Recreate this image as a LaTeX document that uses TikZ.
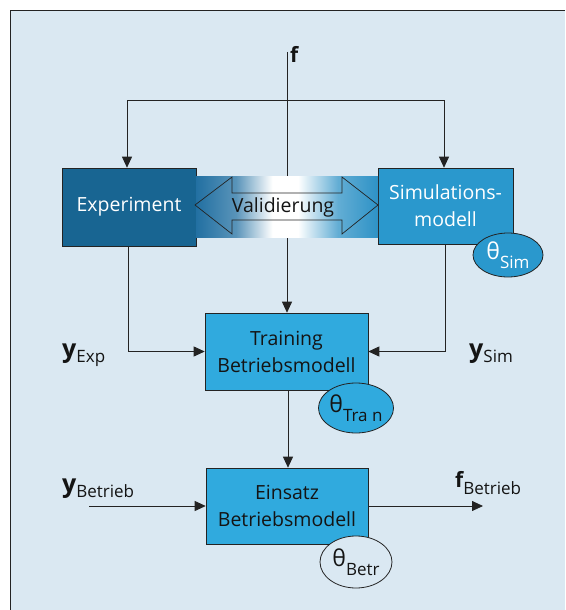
\documentclass[tikz,border=0pt]{standalone}
\usepackage{fontspec}
\setmainfont{Open Sans}
\usetikzlibrary{arrows.meta,shapes.geometric}
\definecolor{bgblue}{RGB}{218,232,242}
\definecolor{expblue}{RGB}{24,101,146}
\definecolor{simblue}{RGB}{42,152,205}
\definecolor{trainblue}{RGB}{48,170,222}
\definecolor{bandleft}{RGB}{34,112,162}
\definecolor{bandright}{RGB}{46,146,198}
\definecolor{linecol}{RGB}{35,35,35}
\definecolor{txtdark}{RGB}{20,20,20}
\pgfdeclarehorizontalshading{valband}{100bp}{color(0bp)=(bandleft); color(25bp)=(bandleft);
  color(36bp)=(bandleft!75!white); color(46bp)=(white); color(53bp)=(white);
  color(64bp)=(bandright!75!white); color(75bp)=(bandright); color(100bp)=(bandright)}
\tikzset{
  box/.style={draw=linecol, line width=0.6pt, minimum width=#1, inner sep=0pt, align=center,
              font=\fontsize{19.5}{27}\selectfont},
  theta/.style={ellipse, draw=linecol, line width=0.8pt, inner sep=0pt},
  arr/.style={draw=linecol, line width=0.8pt, -{Triangle[length=11pt,width=10pt]}},
  ln/.style={draw=linecol, line width=0.8pt},
  lbl/.style={inner sep=0pt, anchor=base west},
}
\newcommand{\bigy}[1]{{\fontsize{25}{25}\selectfont\bfseries y}\raisebox{-5pt}{\fontsize{17}{17}\selectfont #1}}
\newcommand{\thsub}[1]{{\fontsize{23}{23}\selectfont θ}\raisebox{-9pt}{\fontsize{17}{17}\selectfont #1}}
\begin{document}
\begin{tikzpicture}[x=1pt,y=-1pt]
\useasboundingbox (0,0) rectangle (565,610);
% background frame
\fill[white] (0,0) rectangle (565,610);
\fill[bgblue] (10,11) rectangle (565,610);
\draw[linecol, line width=1pt] (10,610) -- (10,11) -- (565,11);

% nodes
\node[box=134pt, minimum height=78pt, fill=expblue, text=white] (exp) at (129,207) {Experiment};
\node[box=135pt, minimum height=76pt, fill=simblue, text=white] (sim) at (445.5,206) {Simulations-\\modell};
\node[box=163pt, minimum height=77pt, fill=trainblue, text=txtdark] (train) at (286.5,351.5) {Training\\Betriebsmodell};
\node[box=162pt, minimum height=76pt, fill=trainblue, text=txtdark] (eins) at (287,506) {Einsatz\\Betriebsmodell};

% coordinates
\coordinate (ftop) at (287,52);
\coordinate (bandtop) at (287,176);
\coordinate (bandbot) at (287,237);
\coordinate (jl) at (127,100);
\coordinate (jr) at (444,100);
\coordinate (yin) at (89,506);
\coordinate (fout) at (483,506);

% f distribution
\draw[ln] (jl) -- (jr);
\draw[arr] (jl) -- (jl |- exp.north);
\draw[arr] (jr) -- (jr |- sim.north);
\draw[ln] (ftop) -- (bandtop);
\draw[arr] (bandbot) -- (bandbot |- train.north);

% validation band
\shade[shading=valband] (196,176) rectangle (378,237);
\draw[linecol, line width=0.7pt] (195,205) -- (232,177) -- (232,193) -- (342,193) -- (342,177) -- (378,205)
  -- (342,234) -- (342,220) -- (232,220) -- (232,234) -- cycle;
\node[inner sep=0pt, font=\fontsize{19.5}{20}\selectfont, text=txtdark] (val) at (283,207) {Validierung};

% outputs to training
\draw[arr] (exp.south -| 128,0) |- (train.west);
\draw[arr] (sim.south) |- (train.east);
\draw[arr] (train.south -| 288,0) -- (eins.north -| 288,0);

% einsatz in/out
\draw[arr] (yin) -- (eins.west);
\draw[arr] (eins.east) -- (fout);

% theta ellipses
\node[theta, minimum width=70pt, minimum height=44pt, fill=simblue, text=white] (tsim) at (508,255) {\thsub{Sim}};
\node[theta, minimum width=72pt, minimum height=50pt, fill=trainblue, text=txtdark] (ttran) at (356,408) {\thsub{Tra n}};
\node[theta, minimum width=72pt, minimum height=52pt, fill=bgblue, text=txtdark] (tbetr) at (356,562) {\thsub{Betr}};

% labels
\node[lbl, font=\fontsize{21}{21}\selectfont\bfseries, text=txtdark] (flab) at (290,63) {f};
\node[lbl, text=txtdark] (yexp) at (62,357) {\bigy{Exp}};
\node[lbl, text=txtdark] (ysim) at (469,357) {\bigy{Sim}};
\node[lbl, text=txtdark] (ybet) at (62,492) {\bigy{Betrieb}};
\node[lbl, text=txtdark] (fbet) at (455,487) {{\fontsize{21}{21}\selectfont\bfseries f}\raisebox{-7pt}{\fontsize{17}{17}\selectfont Betrieb}};
\end{tikzpicture}
\end{document}
